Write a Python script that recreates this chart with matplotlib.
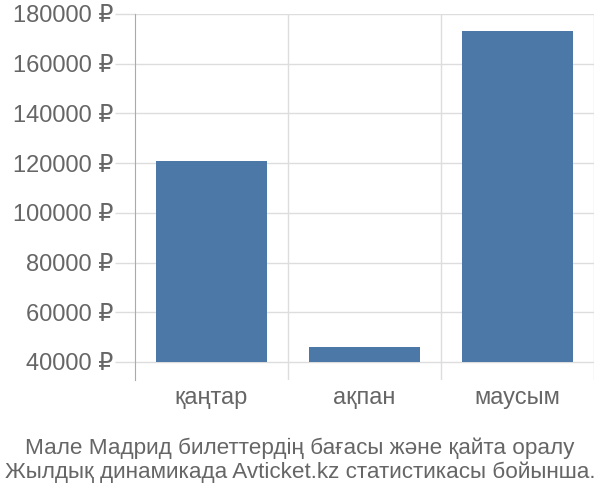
import matplotlib
matplotlib.use("Agg")
import matplotlib.pyplot as plt

plt.rcParams['font.family'] = ['Liberation Sans', 'DejaVu Sans']

# data
months = ['қаңтар', 'ақпан', 'маусым']
prices = [121000, 46000, 173200]
base = 40000
yticks = [40000, 60000, 80000, 100000, 120000, 140000, 160000, 180000]
title = 'Мале Мадрид билеттердің бағасы және қайта оралу\nЖылдық динамикада Avticket.kz статистикасы бойынша.'

txt = '#666666'
grid = '#dddddd'

fig = plt.figure(figsize=(6, 5), dpi=100)
ax = fig.add_axes([0.225, 0.24, 0.765, 0.732])

x = range(len(months))
ax.bar(x, [p - base for p in prices], bottom=base, width=0.72, color='#4c78a8', zorder=3)

ax.set_xlim(-0.5, len(months) - 0.5)
ax.set_ylim(32750, 180000)

ax.set_yticks(yticks)
ax.set_yticklabels([f'{v} ₽' for v in yticks])
ax.tick_params(axis='y', length=14.5, color=grid, width=1, pad=1, labelsize=17, labelcolor=txt)

ax.set_xticks(list(x))
ax.set_xticklabels(months)
ax.tick_params(axis='x', length=0, pad=5, labelsize=17, labelcolor=txt)

ax.grid(axis='y', color=grid, linewidth=1, zorder=0)
for b in [0.5, 1.5, 2.5]:
    ax.axvline(b, color=grid, linewidth=1, zorder=0)

for s in ['top', 'right', 'bottom']:
    ax.spines[s].set_visible(False)
ax.spines['left'].set_color('#aaaaaa')

fig.text(0.5, 0.08, title, ha='center', va='center', fontsize=16.2, color=txt, linespacing=1.15)

fig.savefig('out.png', dpi=100)
